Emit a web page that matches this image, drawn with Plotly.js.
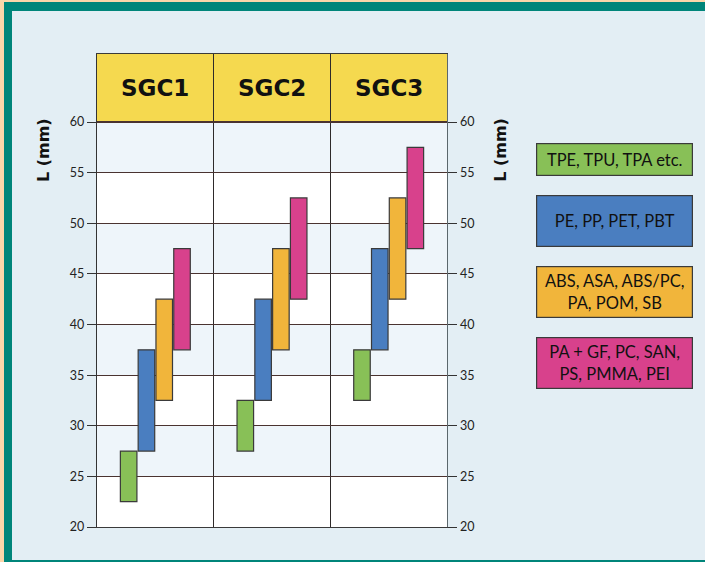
<!DOCTYPE html>
<html>
<head>
<meta charset="utf-8">
<script src="https://cdn.plot.ly/plotly-3.0.1.min.js"></script>
<style>
  html, body { margin:0; padding:0; }
  body { width:705px; height:562px; background:#fbd6aa; position:relative; overflow:hidden; }
  #frame { position:absolute; left:4px; top:2px; width:701px; height:562px; background:#00857a; }
  #chart { position:absolute; left:12px; top:11px; width:693px; height:549px; }
</style>
</head>
<body>
<div id="frame"></div>
<div id="chart"></div>
<script>
// ---- data ----
const categories = ['SGC1', 'SGC2', 'SGC3'];
const seriesNames = [
  'TPE, TPU, TPA etc.',
  'PE, PP, PET, PBT',
  'ABS, ASA, ABS/PC,<br>PA, POM, SB',
  'PA + GF, PC, SAN,<br>PS, PMMA, PEI'
];
const tpeLow  = [22.5, 27.5, 32.5];
const tpeHigh = [27.5, 32.5, 37.5];
const peLow   = [27.5, 32.5, 37.5];
const peHigh  = [37.5, 42.5, 47.5];
const absLow  = [32.5, 37.5, 42.5];
const absHigh = [42.5, 47.5, 52.5];
const paLow   = [37.5, 42.5, 47.5];
const paHigh  = [47.5, 52.5, 57.5];
const yTicks  = [20, 25, 30, 35, 40, 45, 50, 55, 60];
const yTitle  = 'L (mm)';

// ---- styles ----
const colors = ['#88c057', '#4a7ec0', '#f1b53b', '#d8418c'];
const lows  = [tpeLow, peLow, absLow, paLow];
const highs = [tpeHigh, peHigh, absHigh, paHigh];
const yTop = 66.72;

const traces = lows.map((lo, i) => ({
  type: 'bar',
  x: categories,
  base: lo,
  y: highs[i].map((h, k) => h - lo[k]),
  marker: { color: colors[i], line: { color: '#3a3a3a', width: 1.2 } },
  hoverinfo: 'skip',
  showlegend: false
}));
// invisible trace to carry the right-hand axis
traces.push({
  type: 'scatter', mode: 'markers', x: categories, y: tpeLow, yaxis: 'y2',
  marker: { opacity: 0 }, hoverinfo: 'skip', showlegend: false
});

const shapes = [];
// header band
shapes.push({ type: 'rect', xref: 'paper', yref: 'y', x0: 0, x1: 1, y0: yTicks[yTicks.length - 1], y1: yTop,
  fillcolor: '#f5d94f', line: { width: 0 }, layer: 'below' });
// alternating bands
for (let i = yTicks.length - 1; i > 0; i -= 2) {
  shapes.push({ type: 'rect', xref: 'paper', yref: 'y', x0: 0, x1: 1, y0: yTicks[i - 1], y1: yTicks[i],
    fillcolor: '#eef5fa', line: { width: 0 }, layer: 'below' });
}

const annotations = [];
categories.forEach(c => annotations.push({
  xref: 'x', yref: 'y', x: c, y: (yTicks[yTicks.length - 1] + yTop) / 2, text: '<b>' + c + '</b>', showarrow: false,
  font: { family: 'DejaVu Sans', size: 23, color: '#111' }, xanchor: 'center', yanchor: 'middle'
}));
// axis titles
[-0.154, 1.151].forEach(px => annotations.push({
  xref: 'paper', yref: 'paper', x: px, y: 0.797, text: '<b>' + yTitle + '</b>', textangle: -90,
  showarrow: false, font: { family: 'DejaVu Sans', size: 16, color: '#111' }, xanchor: 'center', yanchor: 'middle'
}));
// legend boxes
const legY = [0.777, 0.646, 0.497, 0.346];
const legH = [29, 48, 48, 48];
seriesNames.forEach((n, i) => annotations.push({
  xref: 'paper', yref: 'paper', x: 1.479, y: legY[i], text: n, showarrow: false,
  xanchor: 'center', yanchor: 'middle', align: 'center',
  width: 153, height: legH[i], bgcolor: colors[i], bordercolor: '#3a3a3a', borderwidth: 1.2, borderpad: 1,
  font: { family: 'Lato', size: 16.5, color: '#111' }
}));

const axisFont = { family: 'Lato', size: 12.5, color: '#222' };
const layout = {
  width: 693, height: 549,
  margin: { l: 85, r: 258, t: 43, b: 33 },
  paper_bgcolor: '#e3eef4',
  plot_bgcolor: '#ffffff',
  barmode: 'group', bargap: 0.39, bargroupgap: 0.07,
  xaxis: {
    type: 'category', categoryarray: categories, tickson: 'boundaries',
    showgrid: true, gridcolor: '#2e2a2a', gridwidth: 1,
    showticklabels: false, ticks: '', showline: true, mirror: true, linecolor: '#3a3a3a', linewidth: 1.2,
    zeroline: false, fixedrange: true
  },
  yaxis: {
    range: [yTicks[0], yTop], tickmode: 'array', tickvals: yTicks, ticktext: yTicks.map(String),
    ticks: 'outside', ticklen: 9, tickcolor: '#333', tickwidth: 1,
    showgrid: true, gridcolor: '#4a3330', gridwidth: 1.1,
    showline: true, linecolor: '#333', linewidth: 1.2, zeroline: false,
    tickfont: axisFont, fixedrange: true
  },
  yaxis2: {
    overlaying: 'y', side: 'right', range: [yTicks[0], yTop], tickmode: 'array', tickvals: yTicks,
    ticktext: yTicks.map(String),
    ticks: 'outside', ticklen: 9, tickcolor: '#333', tickwidth: 1,
    showgrid: false, showline: true, linecolor: '#5b676c', linewidth: 1.4, zeroline: false,
    tickfont: axisFont, fixedrange: true
  },
  shapes: shapes,
  annotations: annotations
};

Plotly.newPlot('chart', traces, layout, { displayModeBar: false, staticPlot: true });
</script>
</body>
</html>
